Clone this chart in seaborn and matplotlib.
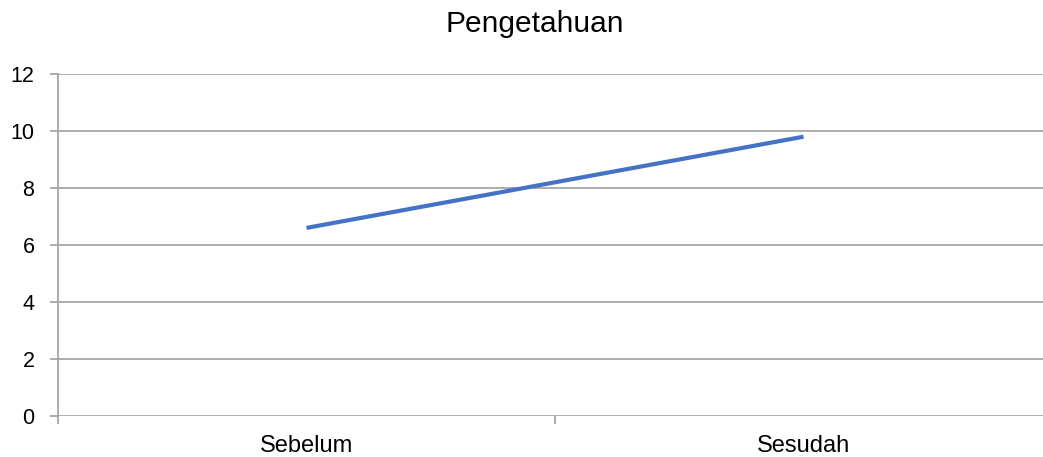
import matplotlib
matplotlib.use("Agg")
import matplotlib.pyplot as plt
import seaborn as sns
import pandas as pd

categories = ["Sebelum", "Sesudah"]
values = [6.6, 9.8]
y_ticks = [0, 2, 4, 6, 8, 10, 12]
title = "Pengetahuan"

sns.set_theme(style="white")
plt.rcParams["font.family"] = ["Liberation Sans", "DejaVu Sans"]

fig = plt.figure(figsize=(10.43, 4.57), dpi=100)
ax = fig.add_axes([58 / 1043, 41 / 457, 994 / 1043, 342 / 457])

df = pd.DataFrame({"Tahap": categories, "Skor": values})
sns.lineplot(data=df, x="Tahap", y="Skor", ax=ax, color="#4472C4",
             linewidth=3.0, solid_capstyle="butt")

ax.set_xlim(-0.5, len(categories) - 0.5)
ax.set_ylim(y_ticks[0], y_ticks[-1])
ax.set_yticks(y_ticks)
ax.set_xticks(range(len(categories)))
ax.set_xticklabels(categories)
ax.set_xticks([i - 0.5 for i in range(len(categories) + 1)], minor=True)
ax.set_xlabel("")
ax.set_ylabel("")

grid_col = "#A6A6A6"
ax.yaxis.grid(True, color=grid_col, linewidth=1.3)
ax.xaxis.grid(False)
ax.set_axisbelow(True)

for side in ["top", "right", "bottom"]:
    ax.spines[side].set_visible(False)
ax.spines["left"].set_color(grid_col)
ax.spines["left"].set_linewidth(1.3)

ax.tick_params(axis="y", which="major", left=True, length=6, width=1.3,
               color=grid_col, labelsize=15.5, pad=11, labelcolor="black")
ax.tick_params(axis="x", which="major", bottom=False, length=0, labelsize=17,
               pad=26, labelcolor="black")
ax.tick_params(axis="x", which="minor", bottom=True, length=6, width=1.3,
               color=grid_col, direction="out")
for lbl in ax.get_xticklabels():
    lbl.set_verticalalignment("baseline")

fig.text(535 / 1043, 1 - 24 / 457, title, ha="center", va="center",
         fontsize=21.5, color="black")

fig.savefig("out.png", dpi=100, facecolor="white")
